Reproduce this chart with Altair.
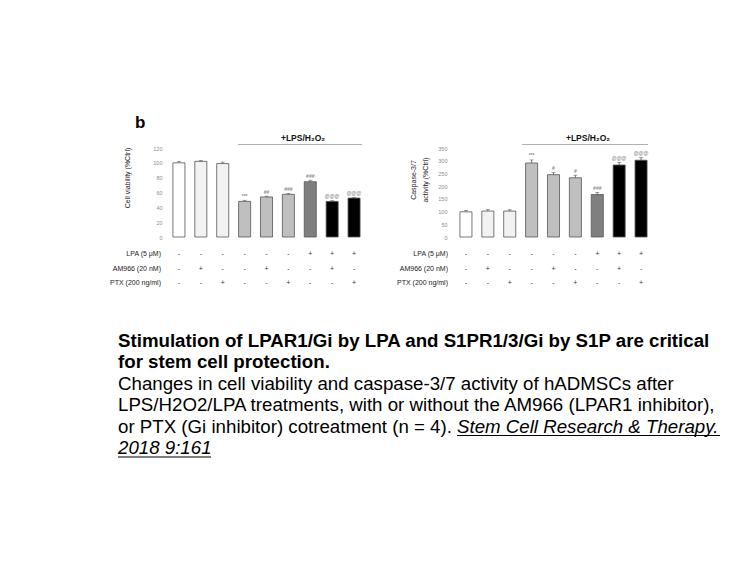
import altair as alt
import pandas as pd

# ---------------- data ----------------
groups = ["g1", "g2", "g3", "g4", "g5", "g6", "g7", "g8", "g9"]
viability = [100, 102, 99, 48, 54, 57.5, 74.5, 48, 52.5]
viability_err = [2, 1, 2, 1.5, 1, 1, 2, 1, 1]
viability_sig = ["", "", "", "***", "##", "###", "###", "@@@", "@@@"]
caspase = [99, 102, 102, 291, 245, 233, 167, 283, 302]
caspase_err = [5, 6, 5, 12, 8, 10, 8, 10, 10]
caspase_sig = ["", "", "", "***", "#", "#", "###", "@@@", "@@@"]
bar_fill = ["#ffffff", "#f2f2f2", "#f2f2f2", "#bfbfbf", "#bfbfbf", "#bfbfbf",
            "#7f7f7f", "#000000", "#000000"]
lpa = ["-", "-", "-", "-", "-", "-", "+", "+", "+"]
am966 = ["-", "+", "-", "-", "+", "-", "-", "+", "-"]
ptx = ["-", "-", "+", "-", "-", "+", "-", "-", "+"]
row_labels = ["LPA (5 \u03bcM)", "AM966 (20 nM)", "PTX (200 ng/ml)"]
viability_ticks = [0, 20, 40, 60, 80, 100, 120]
caspase_ticks = [0, 50, 100, 150, 200, 250, 300, 350]
header = "+LPS/H\u2082O\u2082"
caption_bold = ["Stimulation of LPAR1/Gi by LPA and S1PR1/3/Gi by S1P are critical",
                "for stem cell protection."]
caption_plain = ["Changes in cell viability and caspase-3/7 activity of hADMSCs after",
                 "LPS/H2O2/LPA treatments, with or without the AM966 (LPAR1 inhibitor),",
                 "or PTX (Gi inhibitor) cotreatment (n = 4). "]
caption_cite = ["Stem Cell Research & Therapy.", "2018 9:161"]

FONT = "Liberation Sans"
CAP_SIZE = 18.7
W, H = 197, 89
ROW_Y = [106, 120.5, 135]


def panel(values, errs, sigs, ymax, ticks, titles, title_xs, title_y,
          head_x, line_x1, line_x2, label_pad):
    df = pd.DataFrame({"group": groups, "value": values, "err": errs,
                       "top": [v + e for v, e in zip(values, errs)],
                       "sig": sigs, "fill": bar_fill,
                       "lpa": lpa, "am966": am966, "ptx": ptx})
    x = alt.X("group:N", sort=groups, axis=None,
              scale=alt.Scale(paddingInner=0.45, paddingOuter=0.225))
    yscale = alt.Scale(domain=[0, ymax], nice=False)
    yaxis = alt.Axis(values=ticks, tickCount=len(ticks), domain=False, ticks=False,
                     grid=False, labelFontSize=5.5, labelColor="#8c8c8c",
                     labelFont=FONT, labelOverlap=False, labelPadding=label_pad,
                     title=None)
    base = alt.Chart(df).encode(x=x)
    bars = base.mark_bar(stroke="#555555", strokeWidth=0.8).encode(
        y=alt.Y("value:Q", scale=yscale, axis=yaxis),
        fill=alt.Fill("fill:N", scale=None))
    err = base.mark_rule(color="#555555", strokeWidth=0.8).encode(
        y=alt.Y("value:Q", scale=yscale, axis=yaxis), y2="top:Q")
    cap = base.mark_tick(color="#555555", thickness=0.8, size=4,
                         orient="horizontal").encode(
        y=alt.Y("top:Q", scale=yscale, axis=yaxis))
    sig = base.mark_text(fontSize=5, color="#8c8c8c", baseline="bottom", dy=-1.5,
                         font=FONT, fontWeight="bold").encode(
        y=alt.Y("top:Q", scale=yscale, axis=yaxis), text="sig:N")
    rows = []
    for field, yy in zip(["lpa", "am966", "ptx"], ROW_Y):
        rows.append(base.mark_text(fontSize=7, color="#333333", font=FONT,
                                   baseline="middle").encode(
            y=alt.value(yy), text=f"{field}:N"))
    lab_df = pd.DataFrame({"label": row_labels, "yy": ROW_Y})
    labels = alt.Chart(lab_df).mark_text(fontSize=7, color="#222222", font=FONT,
                                          align="right", baseline="middle").encode(
        x=alt.value(-7), y=alt.Y("yy:Q", scale=None), text="label:N")
    head = alt.Chart(pd.DataFrame({"t": [header]})).mark_text(
        fontSize=8.5, fontWeight="bold", font=FONT, color="#111111",
        baseline="middle").encode(x=alt.value(head_x), y=alt.value(-10.5), text="t:N")
    hline = alt.Chart(pd.DataFrame({"a": [0]})).mark_rule(
        color="#b0b0b0", strokeWidth=1).encode(
        x=alt.value(line_x1), x2=alt.value(line_x2), y=alt.value(-3.5))
    tdf = pd.DataFrame({"t": titles, "xx": title_xs})
    ytitle = alt.Chart(tdf).mark_text(angle=270, fontSize=7, font=FONT,
                                      color="#222222", baseline="middle").encode(
        x=alt.X("xx:Q", scale=None), y=alt.value(title_y), text="t:N")
    return [bars, err, cap, sig] + rows + [labels, head, hline, ytitle]


left_layers = panel(viability, viability_err, viability_sig, 120, viability_ticks,
                    ["Cell viability (%Ctrl)"], [-40], 30, 135, 70, 194, 6)
right_layers = panel(caspase, caspase_err, caspase_sig, 350, caspase_ticks,
                     ["Caspase-3/7", "activity (%Ctrl)"], [-41, -29], 32, 133, 67, 193, 8)

# panel letter
letter = alt.Chart(pd.DataFrame({"t": ["b"]})).mark_text(
    fontSize=17, fontWeight="bold", font=FONT, color="#000000",
    baseline="alphabetic", align="left").encode(
    x=alt.value(-33), y=alt.value(-20), text="t:N")

# caption
cap_df = pd.DataFrame({"t": caption_bold, "yy": [198.5, 220]})
cap_bold = alt.Chart(cap_df).mark_text(fontSize=CAP_SIZE, fontWeight="bold", font=FONT,
                                       color="#000000", align="left",
                                       baseline="alphabetic").encode(
    x=alt.value(-50), y=alt.Y("yy:Q", scale=None), text="t:N")
plain_df = pd.DataFrame({"t": caption_plain, "yy": [241.5, 263, 284.5]})
cap_plain = alt.Chart(plain_df).mark_text(fontSize=CAP_SIZE, font=FONT, color="#000000",
                                          align="left", baseline="alphabetic").encode(
    x=alt.value(-50), y=alt.Y("yy:Q", scale=None), text="t:N")
cite_df = pd.DataFrame({"t": caption_cite, "xx": [289, -50], "yy": [284.5, 306]})
cap_cite = alt.Chart(cite_df).mark_text(fontSize=CAP_SIZE, font=FONT, fontStyle="italic",
                                        color="#000000", align="left",
                                        baseline="alphabetic").encode(
    x=alt.X("xx:Q", scale=None), y=alt.Y("yy:Q", scale=None), text="t:N")
ul1 = alt.Chart(pd.DataFrame({"a": [0]})).mark_rule(color="#000000", strokeWidth=1.2).encode(
    x=alt.value(289), x2=alt.value(552), y=alt.value(287.5))
ul2 = alt.Chart(pd.DataFrame({"a": [0]})).mark_rule(color="#000000", strokeWidth=1.2).encode(
    x=alt.value(-50), x2=alt.value(43), y=alt.value(309))

# invisible anchor fixing the page origin
anchor = alt.Chart(pd.DataFrame({"a": [0]})).mark_rule(strokeOpacity=0).encode(
    x=alt.value(-160), x2=alt.value(-159), y=alt.value(-139.7), y2=alt.value(-139))

left = alt.layer(*left_layers, letter, cap_bold, cap_plain, cap_cite, ul1, ul2,
                 anchor).properties(width=W, height=H)
right = alt.layer(*right_layers).properties(width=W, height=H)

chart = alt.hconcat(left, right, spacing=90, bounds="flush").properties(
    padding=0, background="#ffffff"
).configure_view(stroke=None)

chart.save("out.html", embed_options={"renderer": "svg", "actions": False})
